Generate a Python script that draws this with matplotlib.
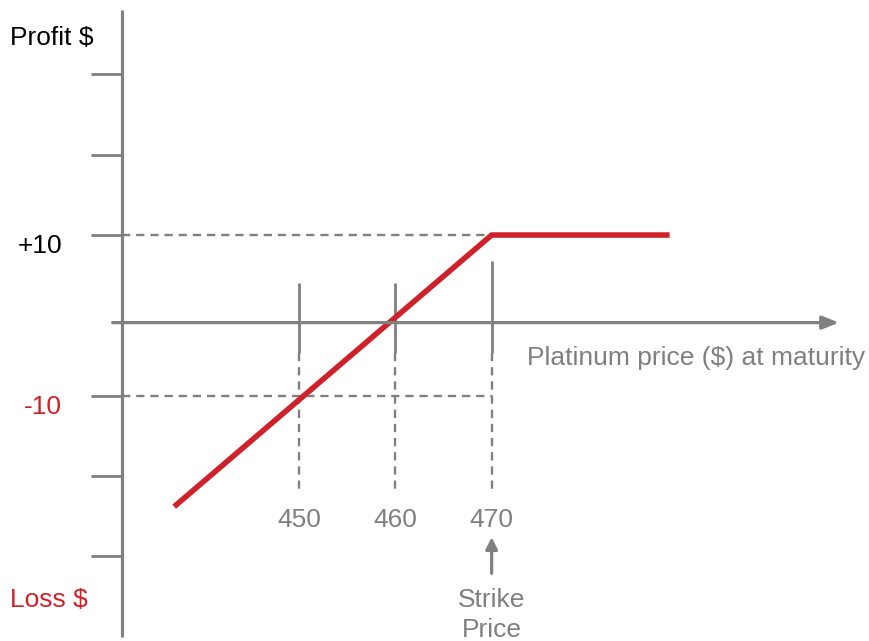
import matplotlib.pyplot as plt

# payoff of the long forward / capped position
PRICE = [437, 470, 488.5]
PROFIT = [-23.8, 10, 10]

PRICE_TICKS = [450, 460, 470]
PROFIT_TICKS = [30, 20, 10, -10, -20, -30]
STRIKE = 470

GRAY = "#808080"
RED = "#cf2129"
AXIS_Y = -0.9  # horizontal axis sits a touch below zero in the original

plt.rcParams["font.family"] = ["Liberation Sans", "DejaVu Sans"]

fig = plt.figure(figsize=(8.7, 6.41), dpi=100)
ax = fig.add_axes([0, 0, 1, 1])
ax.set_xlim(418.89, 509.33)
ax.set_ylim(-40.52, 39.25)
ax.axis("off")

DASH = (0, (3.5, 2.5))

# vertical axis + ticks
ax.plot([431.57, 431.57], [-40.0, 38.0], color=GRAY, lw=2.3, solid_capstyle="butt")
for t in PROFIT_TICKS:
    ax.plot([428.4, 431.57], [t, t], color=GRAY, lw=2.0, solid_capstyle="butt")

# horizontal axis with arrow
ax.annotate("", xy=(506.1, AXIS_Y), xytext=(430.6, AXIS_Y),
            arrowprops=dict(arrowstyle="-|>,head_length=1.0,head_width=0.4",
                            color=GRAY, lw=2.3, shrinkA=0, shrinkB=0))

# price ticks: solid part across axis, dashed part down to labels
for p in PRICE_TICKS:
    top = 6.8 if p == STRIKE else 4.0
    ax.plot([p, p], [top, -4.7], color=GRAY, lw=2.0, solid_capstyle="butt")
    ax.plot([p, p], [-4.7, -22.1], color=GRAY, lw=1.7, ls=DASH)
    ax.text(p, -25.5, str(p), ha="center", va="center", fontsize=19, color=GRAY)

# dashed guides at +10 / -10
ax.plot([431.57, STRIKE], [10, 10], color=GRAY, lw=1.7, ls=DASH)
ax.plot([431.57, STRIKE], [-10, -10], color=GRAY, lw=1.7, ls=DASH)

# payoff line
ax.plot(PRICE, PROFIT, color=RED, lw=4.0, solid_capstyle="butt", solid_joinstyle="miter")

# labels
ax.text(419.93, 34.5, "Profit $", ha="left", va="center", fontsize=19, color="black")
ax.text(425.33, 8.6, "+10", ha="right", va="center", fontsize=19, color="black")
ax.text(425.33, -11.4, "-10", ha="right", va="center", fontsize=19, color=RED)
ax.text(419.93, -35.4, "Loss $", ha="left", va="center", fontsize=19, color=RED)
ax.text(473.7, -5.3, "Platinum price ($) at maturity", ha="left", va="center",
        fontsize=19, color=GRAY)

ax.annotate("", xy=(STRIKE, -27.6), xytext=(STRIKE, -32.1),
            arrowprops=dict(arrowstyle="-|>,head_length=0.7,head_width=0.35",
                            color=GRAY, lw=2.3, shrinkA=0, shrinkB=0))
ax.text(STRIKE, -35.4, "Strike", ha="center", va="center", fontsize=19, color=GRAY)
ax.text(STRIKE, -39.2, "Price", ha="center", va="center", fontsize=19, color=GRAY)

fig.savefig("out.png", dpi=100, facecolor="white")
